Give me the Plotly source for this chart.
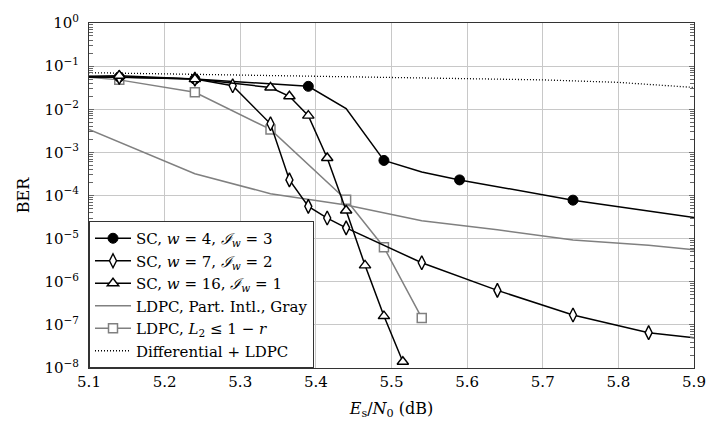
import plotly.graph_objects as go

# ---------------- data ----------------
x_w4 = [5.10, 5.14, 5.24, 5.39, 5.44, 5.49, 5.54, 5.59, 5.74, 5.90]
y_w4 = [0.056, 0.056, 0.050, 0.034, 0.0104, 6.5e-4, 3.5e-4, 2.3e-4, 7.8e-5, 3.1e-5]
m_w4 = [0, 1, 1, 1, 0, 1, 0, 1, 1, 0]

x_w7 = [5.10, 5.14, 5.24, 5.29, 5.34, 5.365, 5.39, 5.415, 5.44, 5.54, 5.64, 5.74, 5.84, 5.90]
y_w7 = [0.056, 0.055, 0.050, 0.035, 4.6e-3, 2.3e-4, 5.6e-5, 3.0e-5, 1.78e-5, 2.75e-6, 6.3e-7, 1.7e-7, 6.6e-8, 5.0e-8]
m_w7 = [0, 1, 1, 1, 1, 1, 1, 1, 1, 1, 1, 1, 1, 0]

x_w16 = [5.10, 5.14, 5.24, 5.34, 5.365, 5.39, 5.415, 5.44, 5.465, 5.49, 5.515]
y_w16 = [0.058, 0.060, 0.050, 0.032, 0.020, 7.1e-3, 7.4e-4, 4.5e-5, 2.4e-6, 1.6e-7, 1.4e-8]
m_w16 = [0, 1, 1, 1, 1, 1, 1, 1, 1, 1, 1]

x_pi = [5.10, 5.24, 5.34, 5.44, 5.54, 5.64, 5.74, 5.84, 5.90]
y_pi = [3.4e-3, 3.2e-4, 1.1e-4, 6.0e-5, 2.6e-5, 1.6e-5, 9.3e-6, 7.0e-6, 5.5e-6]

x_l2 = [5.10, 5.14, 5.24, 5.34, 5.44, 5.49, 5.54]
y_l2 = [0.055, 0.048, 0.0248, 3.4e-3, 8.0e-5, 6.3e-6, 1.45e-7]
m_l2 = [0, 1, 1, 1, 1, 1, 1]

x_diff = [5.1, 5.2, 5.3, 5.4, 5.5, 5.6, 5.7, 5.8, 5.9]
y_diff = [0.0705, 0.066, 0.0624, 0.059, 0.056, 0.052, 0.048, 0.042, 0.032]

names = [
    "SC, <i>w</i> = 4, <i>ℐ</i><sub><i>w</i></sub> = 3",
    "SC, <i>w</i> = 7, <i>ℐ</i><sub><i>w</i></sub> = 2",
    "SC, <i>w</i> = 16, <i>ℐ</i><sub><i>w</i></sub> = 1",
    "LDPC, Part. Intl., Gray",
    "LDPC, <i>L</i><sub>2</sub> ≤ 1 − <i>r</i>",
    "Differential + LDPC",
]

x_ticks = [5.1, 5.2, 5.3, 5.4, 5.5, 5.6, 5.7, 5.8, 5.9]
y_exps = [0, -1, -2, -3, -4, -5, -6, -7, -8]

FONT = "DejaVu Serif, serif"
BLACK = "#000000"
GRAY = "#808080"

fig = go.Figure()


def add_series(x, y, flags, name, color, width, dash, marker):
    fig.add_trace(go.Scatter(x=x, y=y, mode="lines", showlegend=False,
                             line=dict(color=color, width=width, dash=dash),
                             hoverinfo="skip"))
    if marker is not None and flags is not None:
        mx = [a for a, f in zip(x, flags) if f]
        my = [b for b, f in zip(y, flags) if f]
        fig.add_trace(go.Scatter(x=mx, y=my, mode="markers", showlegend=False,
                                 marker=marker))
    fig.add_trace(go.Scatter(x=[None], y=[None],
                             mode="lines+markers" if marker is not None else "lines",
                             name=name, line=dict(color=color, width=width, dash=dash),
                             marker=marker))


add_series(x_pi, y_pi, None, names[3], GRAY, 1.5, "solid", None)
add_series(x_l2, y_l2, m_l2, names[4], GRAY, 1.5, "solid",
           dict(symbol="square", size=9, color="white", line=dict(color=GRAY, width=1.5)))
add_series(x_diff, y_diff, None, names[5], BLACK, 1.3, "1px,2px", None)
add_series(x_w4, y_w4, m_w4, names[0], BLACK, 1.5, "solid",
           dict(symbol="circle", size=10, color=BLACK, line=dict(color=BLACK, width=1)))
add_series(x_w7, y_w7, m_w7, names[1], BLACK, 1.5, "solid",
           dict(symbol="diamond-tall", size=10, color="white", line=dict(color=BLACK, width=1.4)))
add_series(x_w16, y_w16, m_w16, names[2], BLACK, 1.5, "solid",
           dict(symbol="triangle-up", size=10, color="white", line=dict(color=BLACK, width=1.4)))

order = {names[0]: 1, names[1]: 2, names[2]: 3, names[3]: 4, names[4]: 5, names[5]: 6}
for tr in fig.data:
    if tr.showlegend is not False and tr.name in order:
        tr.legendrank = order[tr.name]

fig.update_layout(
    width=718, height=430,
    margin=dict(l=89, r=20, t=15, b=62),
    paper_bgcolor="white", plot_bgcolor="white",
    font=dict(family=FONT, size=15, color="black"),
    showlegend=True,
    legend=dict(x=0, y=0, xanchor="left", yanchor="bottom",
                bgcolor="white", bordercolor="#333333", borderwidth=1,
                font=dict(family=FONT, size=15), tracegroupgap=0,
                itemwidth=36, entrywidth=218, entrywidthmode="pixels"),
    xaxis=dict(range=[5.1, 5.9], tickvals=x_ticks,
               ticktext=[f"{v:.1f}" for v in x_ticks],
               tickfont=dict(family=FONT, size=15),
               showgrid=True, gridcolor="#c8c8c8", gridwidth=1,
               showline=True, linecolor="#333333", linewidth=1, mirror=True,
               ticks="", zeroline=False,
               title=dict(text="<i>E</i><sub>s</sub>/<i>N</i><sub>0</sub> (dB)",
                          font=dict(family=FONT, size=16), standoff=12)),
    yaxis=dict(type="log", range=[-8, 0],
               tickvals=[10.0 ** e for e in y_exps],
               ticktext=[f"10<sup>{'−' if e < 0 else ''}{abs(e)}</sup>" for e in y_exps],
               tickfont=dict(family=FONT, size=15),
               showgrid=True, gridcolor="#c8c8c8", gridwidth=1,
               showline=True, linecolor="#333333", linewidth=1, mirror="allticks",
               ticks="inside", ticklen=5, tickcolor="#666666",
               minor=dict(dtick="D1", ticks="inside", ticklen=4, tickcolor="#666666",
                          showgrid=False),
               zeroline=False, ticklabelstandoff=6,
               title=dict(text="BER", font=dict(family=FONT, size=16), standoff=10)),
)

fig.write_html("out.html")
